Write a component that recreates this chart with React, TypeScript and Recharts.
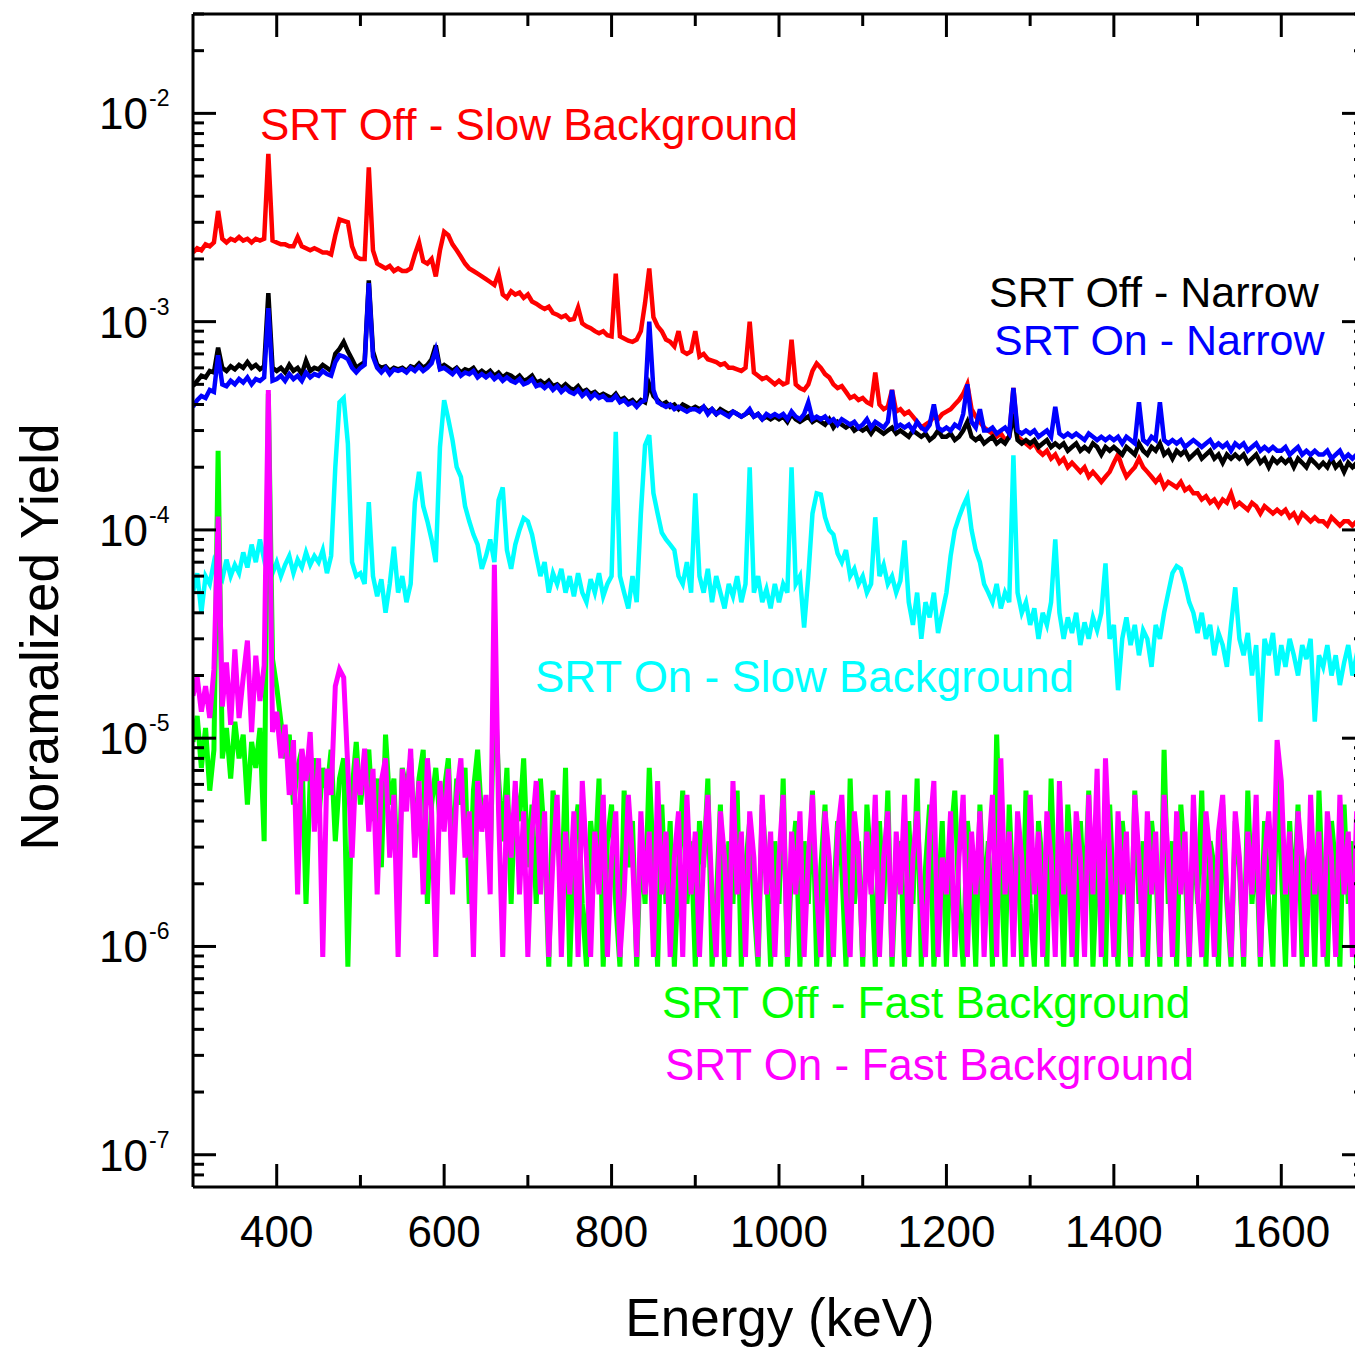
import React from "react";
import { LineChart, Line, XAxis, YAxis } from "recharts";

const FONT = "'Liberation Sans', Arial, Helvetica, sans-serif";

// Energy channels (keV): 5 keV bins, 300 .. 1700
const energyStart = 300;
const energyStep = 5;
const energyCount = 281;
const energies = Array.from({ length: energyCount }, (_, i) => energyStart + energyStep * i);

// Axis ticks
const xMajorTicks = [400, 600, 800, 1000, 1200, 1400, 1600];
const xTicks = [400, 500, 600, 700, 800, 900, 1000, 1100, 1200, 1300, 1400, 1500, 1600];
const yMajorTicks = [1e-7, 1e-6, 1e-5, 1e-4, 1e-3, 1e-2];
const yMinorTicks = [
  8e-8, 9e-8,
  2e-7, 3e-7, 4e-7, 5e-7, 6e-7, 7e-7, 8e-7, 9e-7,
  2e-6, 3e-6, 4e-6, 5e-6, 6e-6, 7e-6, 8e-6, 9e-6,
  2e-5, 3e-5, 4e-5, 5e-5, 6e-5, 7e-5, 8e-5, 9e-5,
  2e-4, 3e-4, 4e-4, 5e-4, 6e-4, 7e-4, 8e-4, 9e-4,
  2e-3, 3e-3, 4e-3, 5e-3, 6e-3, 7e-3, 8e-3, 9e-3,
  2e-2, 3e-2,
];
const yTicks = [...yMajorTicks, ...yMinorTicks];

// SRT Off - Slow Background (red)
const srtOffSlow = [
  2.15e-3, 2.25e-3, 2.2e-3, 2.35e-3, 2.3e-3, 2.4e-3, 3.4e-3, 2.5e-3, 2.4e-3, 2.5e-3,
  2.45e-3, 2.55e-3, 2.45e-3, 2.5e-3, 2.4e-3, 2.5e-3, 2.45e-3, 2.5e-3, 6.4e-3, 2.45e-3,
  2.4e-3, 2.35e-3, 2.35e-3, 2.3e-3, 2.3e-3, 2.55e-3, 2.3e-3, 2.25e-3, 2.2e-3, 2.25e-3,
  2.2e-3, 2.15e-3, 2.15e-3, 2.1e-3, 2.6e-3, 3.1e-3, 3.05e-3, 3.0e-3, 2.3e-3, 2.05e-3,
  2.0e-3, 2.0e-3, 5.5e-3, 2.2e-3, 1.9e-3, 1.85e-3, 1.8e-3, 1.85e-3, 1.75e-3, 1.8e-3,
  1.75e-3, 1.75e-3, 1.8e-3, 2.1e-3, 2.4e-3, 1.95e-3, 1.9e-3, 2.0e-3, 1.65e-3, 2.2e-3,
  2.7e-3, 2.6e-3, 2.35e-3, 2.2e-3, 2.05e-3, 1.9e-3, 1.8e-3, 1.75e-3, 1.7e-3, 1.65e-3,
  1.6e-3, 1.55e-3, 1.5e-3, 1.7e-3, 1.35e-3, 1.3e-3, 1.4e-3, 1.35e-3, 1.38e-3, 1.3e-3,
  1.35e-3, 1.25e-3, 1.22e-3, 1.18e-3, 1.15e-3, 1.18e-3, 1.1e-3, 1.08e-3, 1.05e-3, 1.07e-3,
  1.02e-3, 1.03e-3, 1.17e-3, 0.98e-3, 0.95e-3, 0.93e-3, 0.9e-3, 0.88e-3, 0.9e-3, 0.86e-3,
  0.85e-3, 1.7e-3, 0.85e-3, 0.83e-3, 0.81e-3, 0.8e-3, 0.82e-3, 0.9e-3, 1.23e-3, 1.8e-3,
  1.05e-3, 0.95e-3, 0.9e-3, 0.82e-3, 0.8e-3, 0.76e-3, 0.9e-3, 0.72e-3, 0.7e-3, 0.72e-3,
  0.9e-3, 0.68e-3, 0.7e-3, 0.66e-3, 0.65e-3, 0.64e-3, 0.62e-3, 0.63e-3, 0.6e-3, 0.6e-3,
  0.59e-3, 0.58e-3, 0.6e-3, 1.0e-3, 0.57e-3, 0.55e-3, 0.53e-3, 0.54e-3, 0.52e-3, 0.5e-3,
  0.52e-3, 0.5e-3, 0.51e-3, 0.82e-3, 0.5e-3, 0.48e-3, 0.47e-3, 0.5e-3, 0.58e-3, 0.63e-3,
  0.6e-3, 0.56e-3, 0.54e-3, 0.5e-3, 0.48e-3, 0.49e-3, 0.46e-3, 0.43e-3, 0.44e-3, 0.42e-3,
  0.43e-3, 0.41e-3, 0.4e-3, 0.57e-3, 0.4e-3, 0.38e-3, 0.39e-3, 0.47e-3, 0.37e-3, 0.38e-3,
  0.36e-3, 0.37e-3, 0.35e-3, 0.33e-3, 0.31e-3, 0.32e-3, 0.33e-3, 0.35e-3, 0.34e-3, 0.36e-3,
  0.37e-3, 0.38e-3, 0.4e-3, 0.42e-3, 0.45e-3, 0.5e-3, 0.38e-3, 0.35e-3, 0.33e-3, 0.31e-3,
  0.3e-3, 0.29e-3, 0.28e-3, 0.29e-3, 0.27e-3, 0.28e-3, 0.48e-3, 0.28e-3, 0.27e-3, 0.26e-3,
  0.25e-3, 0.26e-3, 0.24e-3, 0.23e-3, 0.24e-3, 0.22e-3, 0.23e-3, 0.21e-3, 0.22e-3, 0.2e-3,
  0.21e-3, 0.2e-3, 0.19e-3, 0.2e-3, 0.18e-3, 0.19e-3, 0.18e-3, 0.17e-3, 0.18e-3, 0.19e-3,
  0.21e-3, 0.23e-3, 0.2e-3, 0.18e-3, 0.19e-3, 0.2e-3, 0.22e-3, 0.2e-3, 0.19e-3, 0.18e-3,
  0.17e-3, 0.18e-3, 0.16e-3, 0.17e-3, 0.165e-3, 0.16e-3, 0.17e-3, 0.155e-3, 0.16e-3, 0.15e-3,
  0.15e-3, 0.14e-3, 0.145e-3, 0.135e-3, 0.14e-3, 0.13e-3, 0.14e-3, 0.135e-3, 0.15e-3, 0.13e-3,
  0.135e-3, 0.13e-3, 0.125e-3, 0.135e-3, 0.13e-3, 0.12e-3, 0.13e-3, 0.125e-3, 0.12e-3, 0.125e-3,
  0.12e-3, 0.125e-3, 0.115e-3, 0.12e-3, 0.11e-3, 0.12e-3, 0.115e-3, 0.11e-3, 0.115e-3, 0.11e-3,
  0.11e-3, 0.105e-3, 0.115e-3, 0.11e-3, 0.105e-3, 0.11e-3, 0.11e-3, 0.105e-3, 0.11e-3, 0.105e-3,
  0.105e-3,
];

// SRT Off - Narrow (black)
const srtOffNarrow = [
  4.9e-4, 5.2e-4, 5.5e-4, 5.4e-4, 5.8e-4, 5.7e-4, 7.5e-4, 6.0e-4, 5.8e-4, 6.1e-4,
  5.9e-4, 6.2e-4, 6.0e-4, 6.4e-4, 6.0e-4, 6.2e-4, 5.9e-4, 6.1e-4, 13.7e-4, 6.0e-4,
  5.8e-4, 6.0e-4, 5.7e-4, 6.2e-4, 5.8e-4, 6.0e-4, 5.6e-4, 6.5e-4, 5.8e-4, 6.0e-4,
  5.9e-4, 6.2e-4, 6.0e-4, 5.8e-4, 7.0e-4, 7.4e-4, 8.0e-4, 7.2e-4, 6.6e-4, 6.0e-4,
  6.2e-4, 6.4e-4, 15.8e-4, 7.2e-4, 6.2e-4, 6.0e-4, 6.1e-4, 5.8e-4, 6.0e-4, 5.9e-4,
  6.0e-4, 5.8e-4, 6.1e-4, 6.0e-4, 6.3e-4, 6.0e-4, 6.2e-4, 6.6e-4, 7.7e-4, 6.0e-4,
  6.2e-4, 6.0e-4, 5.8e-4, 6.0e-4, 5.7e-4, 5.9e-4, 5.8e-4, 6.0e-4, 5.6e-4, 5.8e-4,
  5.6e-4, 5.8e-4, 5.5e-4, 5.7e-4, 5.4e-4, 5.6e-4, 5.5e-4, 5.3e-4, 5.5e-4, 5.2e-4,
  5.3e-4, 5.5e-4, 5.1e-4, 5.2e-4, 5.0e-4, 5.2e-4, 4.9e-4, 5.0e-4, 4.8e-4, 5.0e-4,
  4.8e-4, 4.7e-4, 4.9e-4, 4.6e-4, 4.7e-4, 4.5e-4, 4.6e-4, 4.4e-4, 4.5e-4, 4.4e-4,
  4.3e-4, 4.5e-4, 4.2e-4, 4.3e-4, 4.1e-4, 4.2e-4, 4.0e-4, 4.2e-4, 4.1e-4, 5.0e-4,
  4.4e-4, 4.2e-4, 4.0e-4, 4.1e-4, 3.9e-4, 4.0e-4, 3.8e-4, 4.0e-4, 3.9e-4, 3.8e-4,
  3.9e-4, 3.8e-4, 3.9e-4, 3.7e-4, 3.8e-4, 3.6e-4, 3.8e-4, 3.7e-4, 3.6e-4, 3.7e-4,
  3.6e-4, 3.5e-4, 3.6e-4, 3.7e-4, 3.5e-4, 3.6e-4, 3.4e-4, 3.5e-4, 3.4e-4, 3.5e-4,
  3.4e-4, 3.5e-4, 3.3e-4, 3.6e-4, 3.4e-4, 3.3e-4, 3.4e-4, 3.5e-4, 3.3e-4, 3.4e-4,
  3.3e-4, 3.2e-4, 3.4e-4, 3.1e-4, 3.3e-4, 3.2e-4, 3.1e-4, 3.2e-4, 3.0e-4, 3.1e-4,
  3.0e-4, 3.1e-4, 2.9e-4, 3.1e-4, 3.0e-4, 2.9e-4, 3.0e-4, 3.1e-4, 2.9e-4, 3.0e-4,
  2.9e-4, 2.8e-4, 3.0e-4, 2.9e-4, 2.8e-4, 2.9e-4, 2.7e-4, 2.8e-4, 3.0e-4, 2.8e-4,
  2.8e-4, 2.9e-4, 2.7e-4, 2.8e-4, 3.0e-4, 3.3e-4, 2.8e-4, 2.7e-4, 2.8e-4, 2.6e-4,
  2.7e-4, 2.8e-4, 2.6e-4, 2.7e-4, 2.6e-4, 2.8e-4, 3.6e-4, 2.7e-4, 2.6e-4, 2.7e-4,
  2.6e-4, 2.7e-4, 2.5e-4, 2.6e-4, 2.7e-4, 2.5e-4, 2.6e-4, 2.5e-4, 2.6e-4, 2.4e-4,
  2.5e-4, 2.6e-4, 2.4e-4, 2.5e-4, 2.4e-4, 2.6e-4, 2.5e-4, 2.3e-4, 2.5e-4, 2.4e-4,
  2.5e-4, 2.4e-4, 2.3e-4, 2.5e-4, 2.4e-4, 2.3e-4, 2.6e-4, 2.4e-4, 2.3e-4, 2.5e-4,
  2.4e-4, 2.6e-4, 2.3e-4, 2.4e-4, 2.2e-4, 2.4e-4, 2.3e-4, 2.4e-4, 2.2e-4, 2.3e-4,
  2.4e-4, 2.2e-4, 2.3e-4, 2.4e-4, 2.2e-4, 2.3e-4, 2.1e-4, 2.3e-4, 2.2e-4, 2.3e-4,
  2.2e-4, 2.3e-4, 2.1e-4, 2.2e-4, 2.3e-4, 2.1e-4, 2.2e-4, 2.0e-4, 2.2e-4, 2.1e-4,
  2.2e-4, 2.1e-4, 2.2e-4, 2.0e-4, 2.2e-4, 2.1e-4, 2.0e-4, 2.2e-4, 2.1e-4, 2.0e-4,
  2.1e-4, 2.0e-4, 2.2e-4, 2.0e-4, 2.1e-4, 1.9e-4, 2.1e-4, 2.0e-4, 2.1e-4, 2.0e-4,
  2.1e-4,
];

// SRT On - Narrow (blue)
const srtOnNarrow = [
  3.9e-4, 4.2e-4, 4.4e-4, 4.3e-4, 4.7e-4, 4.6e-4, 6.9e-4, 5.0e-4, 4.9e-4, 5.2e-4,
  5.0e-4, 5.3e-4, 5.1e-4, 5.4e-4, 5.0e-4, 5.3e-4, 5.2e-4, 5.4e-4, 11.6e-4, 5.2e-4,
  5.3e-4, 5.5e-4, 5.2e-4, 5.6e-4, 5.3e-4, 5.5e-4, 5.2e-4, 5.7e-4, 5.4e-4, 5.6e-4,
  5.5e-4, 5.8e-4, 5.6e-4, 5.5e-4, 6.4e-4, 6.9e-4, 6.8e-4, 6.6e-4, 6.0e-4, 5.7e-4,
  6.0e-4, 6.2e-4, 15.3e-4, 6.8e-4, 6.0e-4, 5.7e-4, 6.0e-4, 5.6e-4, 5.9e-4, 5.8e-4,
  5.9e-4, 5.7e-4, 6.0e-4, 5.8e-4, 6.1e-4, 5.8e-4, 6.0e-4, 6.3e-4, 7.3e-4, 5.9e-4,
  6.0e-4, 5.8e-4, 5.6e-4, 5.9e-4, 5.5e-4, 5.7e-4, 5.6e-4, 5.8e-4, 5.4e-4, 5.6e-4,
  5.4e-4, 5.6e-4, 5.3e-4, 5.5e-4, 5.2e-4, 5.4e-4, 5.2e-4, 5.1e-4, 5.3e-4, 5.0e-4,
  5.1e-4, 5.3e-4, 4.9e-4, 5.0e-4, 4.8e-4, 5.0e-4, 4.7e-4, 4.9e-4, 4.6e-4, 4.8e-4,
  4.6e-4, 4.5e-4, 4.7e-4, 4.4e-4, 4.6e-4, 4.3e-4, 4.5e-4, 4.3e-4, 4.4e-4, 4.2e-4,
  4.2e-4, 4.4e-4, 4.1e-4, 4.2e-4, 4.0e-4, 4.1e-4, 3.9e-4, 4.1e-4, 4.2e-4, 10.0e-4,
  4.7e-4, 4.1e-4, 4.0e-4, 3.9e-4, 4.0e-4, 3.8e-4, 3.9e-4, 3.8e-4, 3.7e-4, 3.8e-4,
  3.8e-4, 3.7e-4, 3.9e-4, 3.6e-4, 3.8e-4, 3.6e-4, 3.7e-4, 3.6e-4, 3.5e-4, 3.7e-4,
  3.6e-4, 3.5e-4, 3.6e-4, 3.8e-4, 3.5e-4, 3.6e-4, 3.4e-4, 3.6e-4, 3.5e-4, 3.6e-4,
  3.5e-4, 3.6e-4, 3.4e-4, 3.7e-4, 3.5e-4, 3.4e-4, 3.6e-4, 4.1e-4, 3.4e-4, 3.5e-4,
  3.4e-4, 3.5e-4, 3.3e-4, 3.4e-4, 3.2e-4, 3.4e-4, 3.3e-4, 3.2e-4, 3.3e-4, 3.1e-4,
  3.2e-4, 3.4e-4, 3.1e-4, 3.3e-4, 3.2e-4, 3.1e-4, 3.3e-4, 4.7e-4, 3.1e-4, 3.2e-4,
  3.1e-4, 3.2e-4, 3.0e-4, 3.3e-4, 3.1e-4, 3.0e-4, 3.2e-4, 4.0e-4, 3.1e-4, 3.0e-4,
  3.1e-4, 3.0e-4, 3.2e-4, 3.1e-4, 3.6e-4, 5.0e-4, 3.3e-4, 3.1e-4, 3.8e-4, 3.0e-4,
  3.0e-4, 3.1e-4, 2.9e-4, 3.0e-4, 3.1e-4, 2.9e-4, 4.8e-4, 3.0e-4, 2.9e-4, 3.0e-4,
  2.9e-4, 3.0e-4, 2.8e-4, 2.9e-4, 3.0e-4, 2.8e-4, 3.9e-4, 2.9e-4, 2.8e-4, 2.9e-4,
  2.8e-4, 2.9e-4, 2.8e-4, 2.7e-4, 2.9e-4, 2.8e-4, 2.7e-4, 2.8e-4, 2.7e-4, 2.8e-4,
  2.7e-4, 2.8e-4, 2.6e-4, 2.8e-4, 2.7e-4, 2.6e-4, 4.1e-4, 2.7e-4, 2.6e-4, 2.8e-4,
  2.7e-4, 4.1e-4, 2.7e-4, 2.6e-4, 2.7e-4, 2.6e-4, 2.7e-4, 2.5e-4, 2.6e-4, 2.7e-4,
  2.6e-4, 2.5e-4, 2.6e-4, 2.7e-4, 2.5e-4, 2.6e-4, 2.5e-4, 2.6e-4, 2.4e-4, 2.6e-4,
  2.5e-4, 2.6e-4, 2.4e-4, 2.5e-4, 2.6e-4, 2.4e-4, 2.5e-4, 2.4e-4, 2.5e-4, 2.4e-4,
  2.4e-4, 2.5e-4, 2.3e-4, 2.4e-4, 2.5e-4, 2.3e-4, 2.4e-4, 2.3e-4, 2.4e-4, 2.3e-4,
  2.3e-4, 2.4e-4, 2.2e-4, 2.3e-4, 2.4e-4, 2.2e-4, 2.3e-4, 2.2e-4, 2.3e-4, 2.2e-4,
  2.3e-4,
];

// SRT On - Slow Background (cyan)
const srtOnSlow = [
  0.5e-4, 0.62e-4, 0.4e-4, 0.6e-4, 0.55e-4, 0.7e-4, 0.62e-4, 0.58e-4, 0.72e-4, 0.6e-4,
  0.68e-4, 0.62e-4, 0.78e-4, 0.66e-4, 0.85e-4, 0.7e-4, 0.9e-4, 0.72e-4, 0.8e-4, 0.62e-4,
  0.7e-4, 0.6e-4, 0.68e-4, 0.75e-4, 0.62e-4, 0.72e-4, 0.66e-4, 0.78e-4, 0.68e-4, 0.75e-4,
  0.7e-4, 0.8e-4, 0.62e-4, 0.75e-4, 2.0e-4, 4.1e-4, 4.3e-4, 2.6e-4, 0.7e-4, 0.6e-4,
  0.62e-4, 0.55e-4, 1.36e-4, 0.6e-4, 0.48e-4, 0.58e-4, 0.4e-4, 0.55e-4, 0.83e-4, 0.5e-4,
  0.6e-4, 0.45e-4, 0.55e-4, 1.35e-4, 1.9e-4, 1.3e-4, 1.1e-4, 0.9e-4, 0.7e-4, 2.5e-4,
  4.2e-4, 3.4e-4, 2.7e-4, 2.0e-4, 1.8e-4, 1.3e-4, 1.1e-4, 0.95e-4, 0.85e-4, 0.65e-4,
  0.75e-4, 0.9e-4, 0.7e-4, 1.39e-4, 1.6e-4, 0.8e-4, 0.65e-4, 0.85e-4, 1.0e-4, 1.14e-4,
  1.1e-4, 0.95e-4, 0.75e-4, 0.6e-4, 0.7e-4, 0.5e-4, 0.62e-4, 0.55e-4, 0.65e-4, 0.5e-4,
  0.6e-4, 0.48e-4, 0.62e-4, 0.5e-4, 0.45e-4, 0.58e-4, 0.5e-4, 0.62e-4, 0.48e-4, 0.55e-4,
  0.6e-4, 2.96e-4, 0.6e-4, 0.5e-4, 0.42e-4, 0.6e-4, 0.45e-4, 1.2e-4, 2.55e-4, 2.85e-4,
  1.5e-4, 1.2e-4, 0.97e-4, 0.9e-4, 0.85e-4, 0.8e-4, 0.6e-4, 0.55e-4, 0.7e-4, 0.5e-4,
  1.5e-4, 0.6e-4, 0.5e-4, 0.65e-4, 0.45e-4, 0.6e-4, 0.5e-4, 0.42e-4, 0.55e-4, 0.48e-4,
  0.6e-4, 0.45e-4, 0.55e-4, 2.0e-4, 0.5e-4, 0.6e-4, 0.45e-4, 0.52e-4, 0.42e-4, 0.55e-4,
  0.45e-4, 0.55e-4, 0.5e-4, 2.0e-4, 0.55e-4, 0.6e-4, 0.34e-4, 0.6e-4, 1.2e-4, 1.5e-4,
  1.48e-4, 1.15e-4, 1.0e-4, 0.95e-4, 0.77e-4, 0.7e-4, 0.8e-4, 0.6e-4, 0.65e-4, 0.55e-4,
  0.6e-4, 0.5e-4, 0.55e-4, 1.15e-4, 0.6e-4, 0.68e-4, 0.55e-4, 0.6e-4, 0.5e-4, 0.57e-4,
  0.89e-4, 0.45e-4, 0.35e-4, 0.5e-4, 0.3e-4, 0.45e-4, 0.38e-4, 0.5e-4, 0.32e-4, 0.4e-4,
  0.5e-4, 0.75e-4, 1.0e-4, 1.15e-4, 1.3e-4, 1.44e-4, 1.0e-4, 0.8e-4, 0.7e-4, 0.55e-4,
  0.5e-4, 0.45e-4, 0.55e-4, 0.42e-4, 0.5e-4, 0.45e-4, 2.28e-4, 0.5e-4, 0.4e-4, 0.45e-4,
  0.35e-4, 0.42e-4, 0.3e-4, 0.4e-4, 0.35e-4, 0.45e-4, 0.9e-4, 0.4e-4, 0.3e-4, 0.38e-4,
  0.32e-4, 0.4e-4, 0.28e-4, 0.36e-4, 0.3e-4, 0.38e-4, 0.33e-4, 0.4e-4, 0.69e-4, 0.3e-4,
  0.35e-4, 0.17e-4, 0.3e-4, 0.38e-4, 0.28e-4, 0.35e-4, 0.25e-4, 0.33e-4, 0.3e-4, 0.22e-4,
  0.35e-4, 0.3e-4, 0.4e-4, 0.5e-4, 0.62e-4, 0.67e-4, 0.65e-4, 0.55e-4, 0.45e-4, 0.4e-4,
  0.32e-4, 0.4e-4, 0.3e-4, 0.35e-4, 0.25e-4, 0.32e-4, 0.28e-4, 0.22e-4, 0.35e-4, 0.53e-4,
  0.3e-4, 0.25e-4, 0.32e-4, 0.2e-4, 0.28e-4, 0.12e-4, 0.3e-4, 0.25e-4, 0.32e-4, 0.2e-4,
  0.28e-4, 0.22e-4, 0.3e-4, 0.25e-4, 0.2e-4, 0.28e-4, 0.24e-4, 0.3e-4, 0.12e-4, 0.25e-4,
  0.22e-4, 0.28e-4, 0.2e-4, 0.25e-4, 0.18e-4, 0.23e-4, 0.28e-4, 0.2e-4, 0.25e-4, 0.22e-4,
  0.24e-4,
];

// SRT Off - Fast Background (green)
const srtOffFast = [
  9.6e-6, 1.28e-5, 7.2e-6, 1.12e-5, 5.6e-6, 8.8e-6, 2.4e-4, 8e-6, 1.12e-5, 6.4e-6,
  1.2e-5, 8e-6, 1.04e-5, 4.8e-6, 9.6e-6, 7.2e-6, 1.12e-5, 3.2e-6, 4.5e-4, 2.4e-5,
  1.76e-5, 1.2e-5, 8e-6, 1.04e-5, 4.8e-6, 7.2e-6, 8.8e-6, 1.6e-6, 6.4e-6, 8e-6,
  4e-6, 7.2e-6, 5.6e-6, 8.8e-6, 3.2e-6, 6.4e-6, 8e-6, 8e-7, 5.6e-6, 9.6e-6,
  4.8e-6, 7.2e-6, 8.8e-6, 4e-6, 6.4e-6, 2.4e-6, 1.04e-5, 4.8e-6, 6.4e-6, 1.6e-6,
  7.2e-6, 5.6e-6, 8e-6, 3.2e-6, 6.4e-6, 8.8e-6, 1.6e-6, 4.8e-6, 7.2e-6, 4e-6,
  5.6e-6, 8e-6, 2.4e-6, 6.4e-6, 4.8e-6, 7.2e-6, 1.6e-6, 5.6e-6, 8.8e-6, 4e-6,
  4.8e-6, 2.4e-6, 2e-5, 6.4e-6, 3.2e-6, 7.2e-6, 1.6e-6, 5.6e-6, 4e-6, 8e-6,
  2.4e-6, 4.8e-6, 1.6e-6, 6.4e-6, 3.2e-6, 8e-7, 5.6e-6, 4e-6, 1.6e-6, 7.2e-6,
  8e-7, 3.2e-6, 4.8e-6, 1.6e-6, 8e-7, 4e-6, 2.4e-6, 6.4e-6, 8e-7, 3.2e-6,
  4.8e-6, 1.6e-6, 8e-7, 5.6e-6, 2.4e-6, 4e-6, 8e-7, 3.2e-6, 1.6e-6, 7.2e-6,
  2.4e-6, 8e-7, 4.8e-6, 1.6e-6, 4e-6, 8e-7, 2.4e-6, 5.6e-6, 1.6e-6, 3.2e-6,
  8e-7, 4e-6, 2.4e-6, 6.4e-6, 8e-7, 1.6e-6, 4.8e-6, 8e-7, 3.2e-6, 1.6e-6,
  5.6e-6, 8e-7, 2.4e-6, 4e-6, 1.6e-6, 8e-7, 4.8e-6, 2.4e-6, 8e-7, 3.2e-6,
  1.6e-6, 6.4e-6, 8e-7, 2.4e-6, 4e-6, 8e-7, 3.2e-6, 1.6e-6, 5.6e-6, 8e-7,
  2.4e-6, 4.8e-6, 8e-7, 1.6e-6, 4e-6, 2.4e-6, 8e-7, 6.4e-6, 1.6e-6, 3.2e-6,
  8e-7, 4.8e-6, 2.4e-6, 8e-7, 4e-6, 1.6e-6, 5.6e-6, 8e-7, 2.4e-6, 3.2e-6,
  8e-7, 4e-6, 1.6e-6, 6.4e-6, 8e-7, 2.4e-6, 4.8e-6, 8e-7, 1.6e-6, 4e-6,
  8e-7, 3.2e-6, 5.6e-6, 1.6e-6, 8e-7, 4e-6, 2.4e-6, 8e-7, 4.8e-6, 1.6e-6,
  3.2e-6, 8e-7, 1.04e-5, 2.4e-6, 8e-7, 4.8e-6, 1.6e-6, 3.2e-6, 8e-7, 5.6e-6,
  1.6e-6, 8e-7, 4e-6, 2.4e-6, 8e-7, 6.4e-6, 1.6e-6, 3.2e-6, 8e-7, 4.8e-6,
  2.4e-6, 8e-7, 4e-6, 1.6e-6, 5.6e-6, 8e-7, 2.4e-6, 3.2e-6, 8e-7, 4.8e-6,
  1.6e-6, 8e-7, 4e-6, 2.4e-6, 8e-7, 5.6e-6, 1.6e-6, 3.2e-6, 8e-7, 4e-6,
  2.4e-6, 8e-7, 8.8e-6, 1.6e-6, 3.2e-6, 8e-7, 4.8e-6, 2.4e-6, 8e-7, 4e-6,
  1.6e-6, 5.6e-6, 8e-7, 3.2e-6, 2.4e-6, 8e-7, 4.8e-6, 1.6e-6, 8e-7, 4e-6,
  2.4e-6, 8e-7, 5.6e-6, 1.6e-6, 3.2e-6, 8e-7, 4e-6, 1.6e-6, 8e-7, 6.4e-6,
  2.4e-6, 8e-7, 4e-6, 1.6e-6, 4.8e-6, 8e-7, 2.4e-6, 3.2e-6, 8e-7, 5.6e-6,
  1.6e-6, 8e-7, 4e-6, 2.4e-6, 8e-7, 4.8e-6, 1.6e-6, 3.2e-6, 8e-7, 4e-6,
  2.4e-6,
];

// SRT On - Fast Background (magenta)
const srtOnFast = [
  1.6e-5, 1.96e-5, 1.34e-5, 1.78e-5, 1.25e-5, 2.14e-5, 1.16e-4, 1.42e-5, 2.31e-5, 1.16e-5,
  2.67e-5, 1.25e-5, 1.96e-5, 2.94e-5, 1.07e-5, 2.49e-5, 1.51e-5, 2.23e-5, 4.7e-4, 1.07e-5,
  1.34e-5, 8.01e-6, 1.16e-5, 5.34e-6, 9.79e-6, 1.78e-6, 8.9e-6, 6.23e-6, 1.07e-5, 3.56e-6,
  8.01e-6, 8.9e-7, 7.12e-6, 5.34e-6, 1.78e-5, 2.14e-5, 1.96e-5, 7.12e-6, 2.67e-6, 8.01e-6,
  5.34e-6, 8.9e-6, 3.56e-6, 7.12e-6, 1.78e-6, 6.23e-6, 8.01e-6, 2.67e-6, 5.34e-6, 8.9e-7,
  7.12e-6, 4.45e-6, 8.9e-6, 2.67e-6, 6.23e-6, 1.78e-6, 8.01e-6, 4.45e-6, 8.9e-7, 6.23e-6,
  3.56e-6, 7.12e-6, 1.78e-6, 5.34e-6, 8.01e-6, 2.67e-6, 4.45e-6, 8.9e-7, 6.23e-6, 3.56e-6,
  5.34e-6, 1.78e-6, 6.8e-5, 4.45e-6, 8.9e-7, 5.34e-6, 2.67e-6, 6.23e-6, 1.78e-6, 4.45e-6,
  8.9e-7, 3.56e-6, 6.23e-6, 1.78e-6, 4.45e-6, 8.9e-7, 2.67e-6, 5.34e-6, 8.9e-7, 3.56e-6,
  1.78e-6, 4.45e-6, 8.9e-7, 6.23e-6, 2.67e-6, 8.9e-7, 3.56e-6, 1.78e-6, 5.34e-6, 8.9e-7,
  2.67e-6, 4.45e-6, 8.9e-7, 1.78e-6, 5.34e-6, 2.67e-6, 8.9e-7, 4.45e-6, 1.78e-6, 3.56e-6,
  8.9e-7, 6.23e-6, 1.78e-6, 3.56e-6, 8.9e-7, 2.67e-6, 4.45e-6, 8.9e-7, 5.34e-6, 1.78e-6,
  3.56e-6, 8.9e-7, 2.67e-6, 5.34e-6, 1.78e-6, 8.9e-7, 4.45e-6, 2.67e-6, 8.9e-7, 6.23e-6,
  1.78e-6, 3.56e-6, 8.9e-7, 4.45e-6, 2.67e-6, 8.9e-7, 5.34e-6, 1.78e-6, 3.56e-6, 8.9e-7,
  2.67e-6, 5.34e-6, 8.9e-7, 3.56e-6, 1.78e-6, 4.45e-6, 8.9e-7, 2.67e-6, 5.34e-6, 1.78e-6,
  8.9e-7, 4.45e-6, 2.67e-6, 8.9e-7, 3.56e-6, 5.34e-6, 1.78e-6, 8.9e-7, 4.45e-6, 2.67e-6,
  8.9e-7, 3.56e-6, 1.78e-6, 5.34e-6, 8.9e-7, 2.67e-6, 4.45e-6, 8.9e-7, 3.56e-6, 1.78e-6,
  5.34e-6, 8.9e-7, 2.67e-6, 4.45e-6, 1.78e-6, 8.9e-7, 3.56e-6, 6.23e-6, 8.9e-7, 2.67e-6,
  1.78e-6, 4.45e-6, 8.9e-7, 2.67e-6, 5.34e-6, 8.9e-7, 3.56e-6, 1.78e-6, 4.45e-6, 8.9e-7,
  2.67e-6, 5.34e-6, 8.9e-7, 8.01e-6, 1.78e-6, 3.56e-6, 8.9e-7, 4.45e-6, 2.67e-6, 8.9e-7,
  5.34e-6, 1.78e-6, 3.56e-6, 8.9e-7, 4.45e-6, 2.67e-6, 8.9e-7, 6.23e-6, 1.78e-6, 3.56e-6,
  8.9e-7, 4.45e-6, 2.67e-6, 8.9e-7, 5.34e-6, 1.78e-6, 7.12e-6, 8.9e-7, 8.01e-6, 2.67e-6,
  8.9e-7, 4.45e-6, 1.78e-6, 3.56e-6, 8.9e-7, 5.34e-6, 2.67e-6, 8.9e-7, 4.45e-6, 1.78e-6,
  3.56e-6, 8.9e-7, 5.34e-6, 2.67e-6, 8.9e-7, 4.45e-6, 1.78e-6, 3.56e-6, 8.9e-7, 5.34e-6,
  1.78e-6, 8.9e-7, 4.45e-6, 2.67e-6, 8.9e-7, 3.56e-6, 5.34e-6, 1.78e-6, 8.9e-7, 4.45e-6,
  2.67e-6, 8.9e-7, 3.56e-6, 1.78e-6, 5.34e-6, 8.9e-7, 2.67e-6, 4.45e-6, 1.78e-6, 9.79e-6,
  6.23e-6, 1.78e-6, 3.56e-6, 8.9e-7, 4.45e-6, 2.67e-6, 8.9e-7, 5.34e-6, 1.78e-6, 3.56e-6,
  8.9e-7, 4.45e-6, 2.67e-6, 8.9e-7, 5.34e-6, 1.78e-6, 3.56e-6, 8.9e-7, 4.45e-6, 2.67e-6,
  1.78e-6,
];

const data = energies.map((e, i) => ({
  e,
  srtOffSlow: srtOffSlow[i],
  srtOffNarrow: srtOffNarrow[i],
  srtOnNarrow: srtOnNarrow[i],
  srtOnSlow: srtOnSlow[i],
  srtOffFast: srtOffFast[i],
  srtOnFast: srtOnFast[i],
}));

const series = [
  { key: "srtOffSlow", color: "#ff0000", width: 4.5 },
  { key: "srtOffNarrow", color: "#000000", width: 4.5 },
  { key: "srtOnNarrow", color: "#0000ff", width: 4.5 },
  { key: "srtOnSlow", color: "#00ffff", width: 4.5 },
  { key: "srtOffFast", color: "#00ff00", width: 5 },
  { key: "srtOnFast", color: "#ff00ff", width: 5 },
];

const labels = [
  { text: "SRT Off - Slow Background", color: "#ff0000", x: 260, y: 140, size: 44 },
  { text: "SRT Off - Narrow", color: "#000000", x: 989, y: 307, size: 43 },
  { text: "SRT On - Narrow", color: "#0000ff", x: 994, y: 355, size: 43 },
  { text: "SRT On - Slow Background", color: "#00ffff", x: 535, y: 692, size: 44 },
  { text: "SRT Off - Fast Background", color: "#00ff00", x: 662, y: 1018, size: 44 },
  { text: "SRT On - Fast Background", color: "#ff00ff", x: 665, y: 1080, size: 44 },
];

const TICK_W = 3;

const LeftTick = (props: any) => {
  const { x, y, payload } = props;
  const v = payload.value;
  const major = yMajorTicks.includes(v);
  if (!major) {
    return <line x1={x} x2={x + 11} y1={y} y2={y} stroke="#000" strokeWidth={TICK_W} />;
  }
  const exp = Math.round(Math.log10(v));
  return (
    <g>
      <line x1={x} x2={x + 23} y1={y} y2={y} stroke="#000" strokeWidth={TICK_W} />
      <text x={x - 45} y={y + 16} textAnchor="end" fontSize={44} fontFamily={FONT} fill="#000">
        10
      </text>
      <text x={x - 44} y={y - 7} textAnchor="start" fontSize={23} fontFamily={FONT} fill="#000">
        {String(exp)}
      </text>
    </g>
  );
};

const RightTick = (props: any) => {
  const { x, y, payload } = props;
  const major = yMajorTicks.includes(payload.value);
  return <line x1={x} x2={x - (major ? 23 : 11)} y1={y} y2={y} stroke="#000" strokeWidth={TICK_W} />;
};

const BottomTick = (props: any) => {
  const { x, y, payload } = props;
  const major = xMajorTicks.includes(payload.value);
  return (
    <g>
      <line x1={x} x2={x} y1={y} y2={y - (major ? 23 : 12)} stroke="#000" strokeWidth={TICK_W} />
      {major && (
        <text x={x} y={y + 60} textAnchor="middle" fontSize={44} fontFamily={FONT} fill="#000">
          {String(payload.value)}
        </text>
      )}
    </g>
  );
};

const TopTick = (props: any) => {
  const { x, y, payload } = props;
  const major = xMajorTicks.includes(payload.value);
  return <line x1={x} x2={x} y1={y} y2={y + (major ? 23 : 12)} stroke="#000" strokeWidth={TICK_W} />;
};

const axisLine = { stroke: "#000", strokeWidth: 3 };

export default function App() {
  return (
    <div
      style={{
        position: "absolute",
        left: 0,
        top: 0,
        width: 1355,
        height: 1348,
        overflow: "hidden",
        background: "#fff",
      }}
    >
      <LineChart
        width={1380}
        height={1348}
        data={data}
        margin={{ top: 4, right: 5, bottom: 101, left: 93 }}
      >
        <XAxis
          dataKey="e"
          type="number"
          domain={[300, 1700]}
          allowDataOverflow
          ticks={xTicks}
          interval={0}
          tickSize={0}
          tickMargin={0}
          height={60}
          axisLine={axisLine}
          tickLine={false}
          tick={(p: any) => <BottomTick {...p} />}
        />
        <XAxis
          xAxisId="top"
          dataKey="e"
          orientation="top"
          type="number"
          domain={[300, 1700]}
          allowDataOverflow
          ticks={xTicks}
          interval={0}
          tickSize={0}
          tickMargin={0}
          height={10}
          axisLine={axisLine}
          tickLine={false}
          tick={(p: any) => <TopTick {...p} />}
        />
        <YAxis
          type="number"
          scale="log"
          domain={[7e-8, 0.03]}
          allowDataOverflow
          ticks={yTicks}
          interval={0}
          tickSize={0}
          tickMargin={0}
          width={100}
          axisLine={axisLine}
          tickLine={false}
          tick={(p: any) => <LeftTick {...p} />}
        />
        <YAxis
          yAxisId="right"
          orientation="right"
          type="number"
          scale="log"
          domain={[7e-8, 0.03]}
          allowDataOverflow
          ticks={yTicks}
          interval={0}
          tickSize={0}
          tickMargin={0}
          width={10}
          axisLine={axisLine}
          tickLine={false}
          tick={(p: any) => <RightTick {...p} />}
        />
        {series.map((s) => (
          <Line
            key={s.key}
            type="linear"
            dataKey={s.key}
            stroke={s.color}
            strokeWidth={s.width}
            dot={false}
            activeDot={false}
            isAnimationActive={false}
          />
        ))}
      </LineChart>
      <svg
        width={1355}
        height={1348}
        style={{ position: "absolute", left: 0, top: 0, pointerEvents: "none" }}
      >
        <g fontFamily={FONT}>
          {labels.map((l) => (
            <text key={l.text} x={l.x} y={l.y} fontSize={l.size} fill={l.color}>
              {l.text}
            </text>
          ))}
          <text x={780} y={1336} fontSize={53} textAnchor="middle" fill="#000">
            Energy (keV)
          </text>
          <text
            transform="translate(58,637) rotate(-90)"
            fontSize={53}
            textAnchor="middle"
            fill="#000"
          >
            Noramalized Yield
          </text>
        </g>
      </svg>
    </div>
  );
}
